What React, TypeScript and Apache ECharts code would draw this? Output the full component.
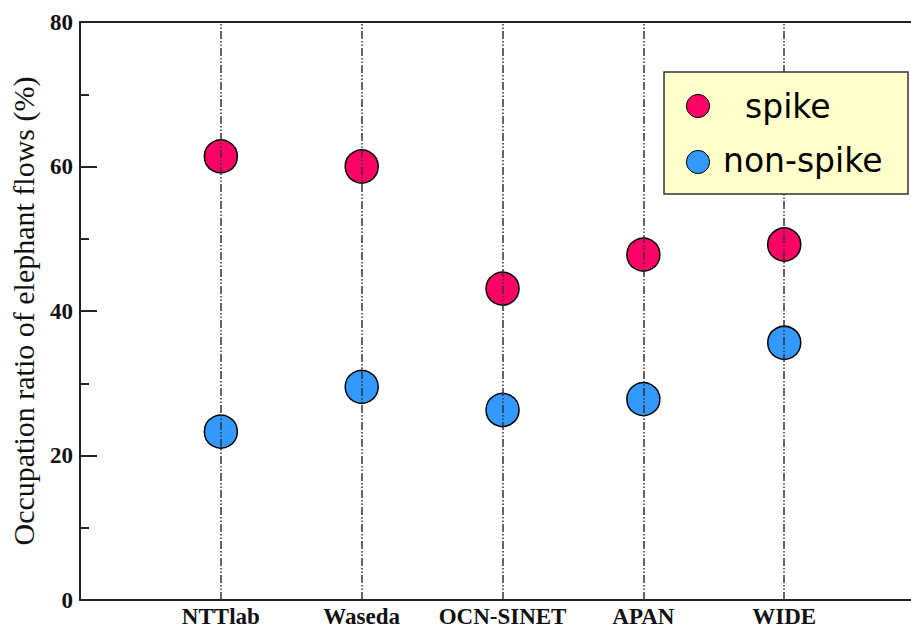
import React, { useEffect, useRef } from "react";
import * as echarts from "echarts";

const categories = ["NTTlab", "Waseda", "OCN-SINET", "APAN", "WIDE"];
const spikeValues = [61.4, 60.0, 43.1, 47.8, 49.2];
const nonSpikeValues = [23.3, 29.5, 26.3, 27.8, 35.6];
const yTicks = [0, 20, 40, 60, 80];
const legendLabels = ["spike", "non-spike"];

const RED = "#FF0066";
const BLUE = "#3399FF";
const X_MAX = 5.9;

export default function App() {
  const ref = useRef<HTMLDivElement>(null);
  useEffect(() => {
    if (!ref.current) return;
    const chart = echarts.init(ref.current, null, { renderer: "svg" });
    const toPoints = (vals: number[]) => vals.map((v, i) => [i + 1, v]);
    chart.setOption({
      animation: false,
      backgroundColor: "#ffffff",
      grid: {
        left: 80,
        top: 22,
        right: 0,
        bottom: 28,
      },
      xAxis: [
        {
          type: "value",
          min: 0,
          max: X_MAX,
          interval: 1,
          position: "bottom",
          axisLine: { show: true, onZero: false, lineStyle: { color: "#222", width: 2 } },
          axisTick: { show: false },
          splitLine: { show: false },
          axisLabel: {
            formatter: (v: number) => (Number.isInteger(v) ? categories[v - 1] || "" : ""),
            fontFamily: "Liberation Serif",
            fontWeight: "bold",
            fontSize: 23,
            color: "#111",
            margin: 5,
            showMaxLabel: false,
          },
        },
        {
          type: "value",
          min: 0,
          max: X_MAX,
          position: "top",
          axisLine: { show: true, onZero: false, lineStyle: { color: "#222", width: 2 } },
          axisTick: { show: false },
          splitLine: { show: false },
          axisLabel: { show: false },
        },
      ],
      yAxis: {
        type: "value",
        min: yTicks[0],
        max: yTicks[yTicks.length - 1],
        interval: 20,
        name: "Occupation ratio of elephant flows (%)",
        nameLocation: "middle",
        nameGap: 42,
        nameTextStyle: { fontFamily: "Liberation Serif", fontSize: 30, color: "#111" },
        axisLine: { show: true, lineStyle: { color: "#222", width: 2 } },
        axisTick: { show: true, inside: true, length: 17, lineStyle: { color: "#222", width: 2 } },
        minorTick: { show: true, splitNumber: 2, length: 9, lineStyle: { color: "#222", width: 2 } },
        splitLine: { show: false },
        axisLabel: {
          fontFamily: "Liberation Serif",
          fontWeight: "bold",
          fontSize: 23,
          color: "#111",
          margin: 7,
        },
      },
      series: [
        {
          name: "guides",
          type: "line",
          data: [],
          z: 1,
          silent: true,
          markLine: {
            silent: true,
            symbol: "none",
            label: { show: false },
            lineStyle: { color: "#333", width: 1.5, type: [8, 2, 1.5, 2, 1.5, 2] },
            data: categories.map((_, i) => ({ xAxis: i + 1 })),
          },
        },
        {
          name: "spike",
          type: "scatter",
          data: toPoints(spikeValues),
          symbolSize: 33,
          itemStyle: { color: RED, borderColor: "#000", borderWidth: 1.5, opacity: 1 },
          z: 3,
        },
        {
          name: "non-spike",
          type: "scatter",
          data: toPoints(nonSpikeValues),
          symbolSize: 33,
          itemStyle: { color: BLUE, borderColor: "#000", borderWidth: 1.5, opacity: 1 },
          z: 3,
        },
      ],
      graphic: [
        {
          type: "rect",
          shape: { x: 664, y: 72, width: 244, height: 122 },
          style: { fill: "#FFFFCC", stroke: "#333", lineWidth: 1.5 },
          z: 10,
        },
        {
          type: "circle",
          shape: { cx: 698, cy: 106, r: 11.5 },
          style: { fill: RED, stroke: "#000", lineWidth: 1 },
          z: 11,
        },
        {
          type: "circle",
          shape: { cx: 698, cy: 162, r: 11.5 },
          style: { fill: BLUE, stroke: "#000", lineWidth: 1 },
          z: 11,
        },
        {
          type: "text",
          x: 745,
          y: 106,
          style: {
            text: legendLabels[0],
            fontFamily: "DejaVu Sans",
            fontSize: 33,
            fill: "#000",
            verticalAlign: "middle",
            textAlign: "left",
          },
          z: 11,
        },
        {
          type: "text",
          x: 723,
          y: 160,
          style: {
            text: legendLabels[1],
            fontFamily: "DejaVu Sans",
            fontSize: 33,
            fill: "#000",
            verticalAlign: "middle",
            textAlign: "left",
          },
          z: 11,
        },
      ],
    });
    return () => chart.dispose();
  }, []);
  return (
    <div
      ref={ref}
      style={{ position: "fixed", left: 0, top: 0, width: 911, height: 628 }}
    />
  );
}
